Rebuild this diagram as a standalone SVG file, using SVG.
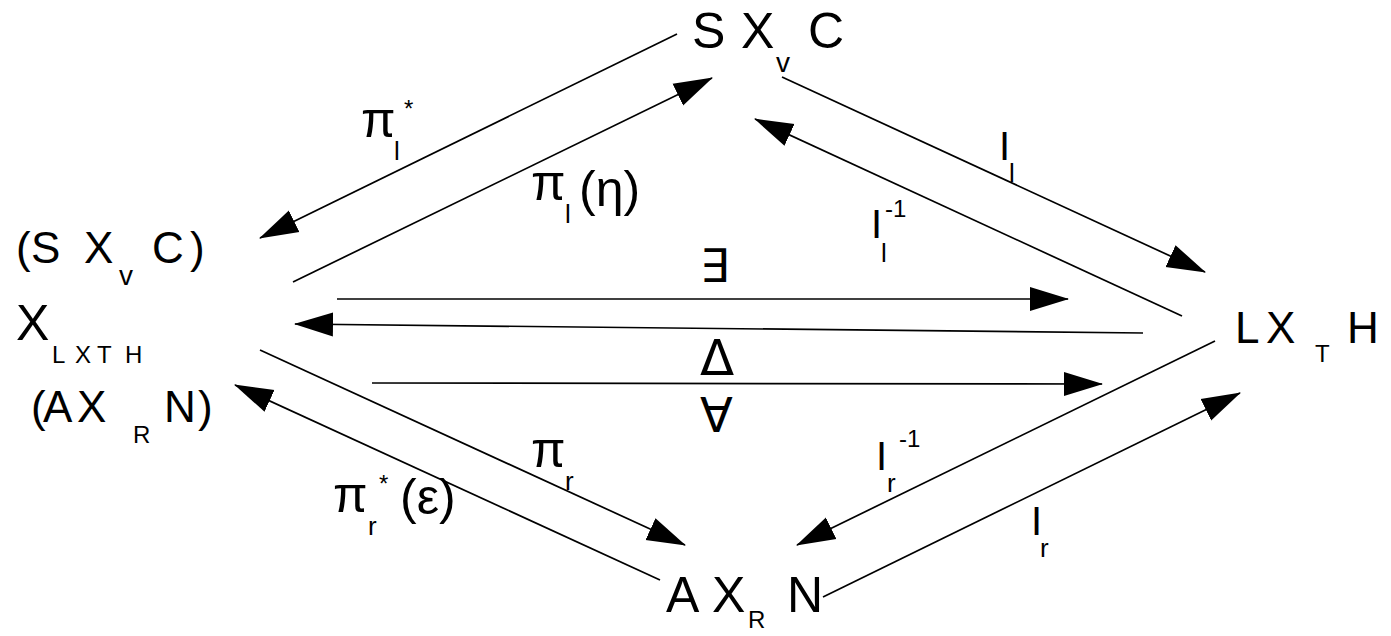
<svg xmlns="http://www.w3.org/2000/svg" width="1391" height="636" viewBox="0 0 1391 636">
<style>
text{font-family:"Liberation Sans","DejaVu Sans",Arial,sans-serif;fill:#000}
.m{font-size:44px}
.s{font-size:24px}
.sv{font-size:28px}
.sl{font-size:26px}
.sup{font-size:24px}
.p{font-size:50px}
.i{font-size:40px}
.sym{font-family:"DejaVu Sans","Liberation Sans",sans-serif}
.c line{stroke:#000;stroke-width:1.7;marker-end:url(#ah)}
</style>
<defs>
<marker id="ah" markerUnits="userSpaceOnUse" markerWidth="40" markerHeight="26" viewBox="0 0 40 26" refX="38" refY="13" orient="auto">
<path d="M0,1 L39,13 L0,25 Z" fill="#000"/>
</marker>
</defs>
<rect width="1391" height="636" fill="#fff"/>
<g id="connectors" class="c">
<line x1="677" y1="34" x2="260" y2="238"/>
<line x1="293" y1="282" x2="712" y2="78"/>
<line x1="782" y1="77" x2="1205" y2="272"/>
<line x1="1182" y1="316" x2="755" y2="119"/>
<line x1="337" y1="299" x2="1068" y2="299"/>
<line x1="1143" y1="333" x2="295" y2="324"/>
<line x1="372" y1="383" x2="1102" y2="384"/>
<line x1="260" y1="350" x2="685" y2="545"/>
<line x1="660" y1="580" x2="235" y2="385"/>
<line x1="1215" y1="341" x2="797" y2="545"/>
<line x1="823" y1="597" x2="1240" y2="393"/>
</g>
<g id="node-top">
<text class="p" y="48"><tspan x="692">S</tspan><tspan x="741">X</tspan><tspan x="808">C</tspan></text>
<text class="sv" x="776" y="72">v</text>
</g>
<g id="node-left">
<text class="m" y="263"><tspan x="16">(</tspan><tspan x="31">S</tspan><tspan x="84">X</tspan><tspan x="152">C</tspan><tspan x="190">)</tspan></text>
<text class="sv" x="119" y="285">v</text>
<text class="p" x="16" y="340">X</text>
<text class="s" y="363"><tspan x="52">L</tspan><tspan x="75">X</tspan><tspan x="97">T</tspan><tspan x="125">H</tspan></text>
<text class="m" y="422"><tspan x="31">(</tspan><tspan x="43">A</tspan><tspan x="77">X</tspan><tspan x="164">N</tspan><tspan x="198">)</tspan></text>
<text class="s" x="133" y="443">R</text>
</g>
<g id="node-right">
<text class="m" y="343"><tspan x="1235">L</tspan><tspan x="1266">X</tspan><tspan x="1347">H</tspan></text>
<text class="s" x="1315" y="362">T</text>
</g>
<g id="node-bottom">
<text class="p" y="612"><tspan x="666">A</tspan><tspan x="712">X</tspan><tspan x="787">N</tspan></text>
<text class="s" x="748" y="628">R</text>
</g>
<g id="labels">
<text class="p" x="361" y="137">π</text><text class="sl" x="394" y="160">l</text><text class="s" x="404" y="117">*</text>
<text class="p" x="531" y="200">π</text><text class="sl" x="565" y="223">l</text><text class="p" x="579" y="206">(η)</text>
<text class="i" x="999" y="160">I</text><text class="sl" x="1009" y="182">l</text>
<text class="i" x="871" y="238">I</text><text class="sl" x="881" y="262">l</text><text class="sup" x="885" y="217">-1</text>
<text class="p" x="531" y="467">π</text><text class="sl" x="565" y="490">r</text>
<text class="p" x="333" y="512">π</text><text class="sl" x="368" y="535">r</text><text class="s" x="379" y="492">*</text><text class="p" x="400" y="514">(ε)</text>
<text class="i" x="876" y="470">I</text><text class="sl" x="887" y="492">r</text><text class="sup" x="899" y="447">-1</text>
<text class="i" x="1031" y="535">I</text><text class="sl" x="1040" y="557">r</text>
<text class="sym" x="700" y="282" font-size="46">∃</text>
<text class="sym" x="700" y="375" font-size="50">Δ</text>
<text class="sym" x="700" y="432" font-size="48">∀</text>
</g>
</svg>
